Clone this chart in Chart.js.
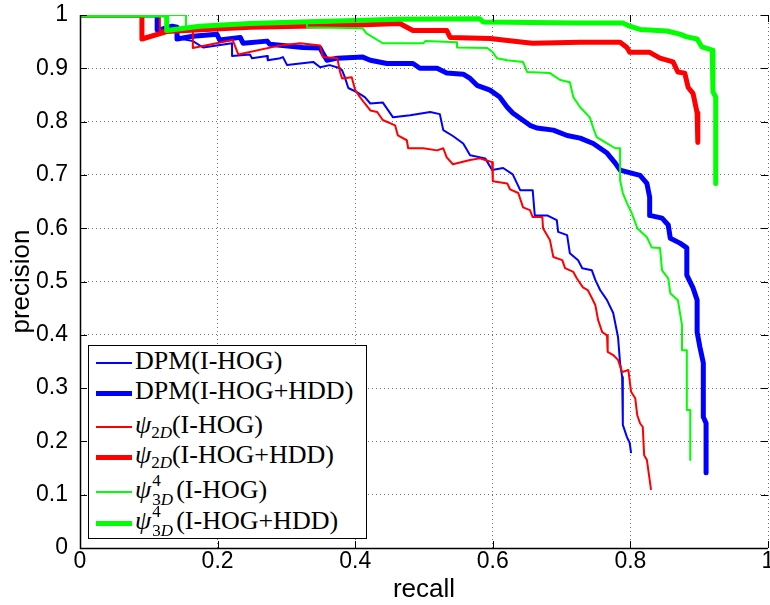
<!DOCTYPE html>
<html>
<head>
<meta charset="utf-8">
<script src="https://cdn.jsdelivr.net/npm/chart.js@4/dist/chart.umd.min.js"></script>
<style>
  html, body { margin: 0; padding: 0; background: #fff; }
  #wrap { position: relative; width: 770px; height: 605px; }
  #legend {
    position: absolute; left: 88px; top: 345px; width: 277px; height: 192px;
    border: 1px solid #000; background: #fff; color: #000;
    font-family: "Liberation Serif", "Times New Roman", serif; font-size: 26px;
  }
  .row { position: absolute; left: 7px; height: 30px; line-height: 30px; white-space: nowrap; }
  .sw { display: inline-block; width: 36px; vertical-align: middle; margin-right: 3px; }
  .sub { font-size: 17px; position: relative; top: 5px; }
  .ss { display: inline-block; position: relative; width: 25px; height: 10px; }
  .ss span { position: absolute; left: 1px; font-size: 17px; line-height: 17px; }
  .ss .sp { top: -16px; }
  .ss .sb { top: 3px; }
</style>
</head>
<body>
<div id="wrap">
  <canvas id="chart" width="770" height="605"></canvas>
  <div id="legend"></div>
</div>
<script>
// tick labels
const xTicks = [0, 0.2, 0.4, 0.6, 0.8, 1];
const yTicks = [0, 0.1, 0.2, 0.3, 0.4, 0.5, 0.6, 0.7, 0.8, 0.9, 1];

// DPM(I-HOG)
const dpmHogR = [0, 0.110, 0.110, 0.138, 0.145, 0.164, 0.179, 0.221, 0.221, 0.247, 0.250, 0.272, 0.273, 0.291, 0.295, 0.301, 0.339, 0.349, 0.363, 0.378, 0.381, 0.385, 0.390, 0.403, 0.414, 0.422, 0.440, 0.455, 0.480, 0.509, 0.523, 0.528, 0.542, 0.557, 0.567, 0.589, 0.599, 0.615, 0.629, 0.640, 0.658, 0.661, 0.679, 0.693, 0.695, 0.708, 0.712, 0.724, 0.730, 0.744, 0.749, 0.756, 0.766, 0.775, 0.782, 0.785, 0.788, 0.789, 0.795, 0.799, 0.801];
const dpmHogP = [1, 1, 0.971, 0.975, 0.956, 0.951, 0.939, 0.947, 0.923, 0.926, 0.919, 0.923, 0.915, 0.919, 0.921, 0.906, 0.912, 0.902, 0.906, 0.900, 0.896, 0.883, 0.863, 0.855, 0.846, 0.834, 0.836, 0.808, 0.812, 0.818, 0.814, 0.784, 0.773, 0.759, 0.737, 0.731, 0.709, 0.713, 0.701, 0.671, 0.671, 0.624, 0.624, 0.615, 0.593, 0.587, 0.553, 0.540, 0.525, 0.521, 0.503, 0.484, 0.465, 0.441, 0.396, 0.347, 0.321, 0.231, 0.208, 0.197, 0.178];

// DPM(I-HOG+HDD)
const dpmHddR = [0, 0.113, 0.113, 0.134, 0.141, 0.141, 0.164, 0.199, 0.203, 0.233, 0.237, 0.272, 0.276, 0.324, 0.349, 0.353, 0.359, 0.374, 0.411, 0.422, 0.446, 0.484, 0.494, 0.519, 0.533, 0.557, 0.567, 0.577, 0.596, 0.610, 0.621, 0.629, 0.654, 0.664, 0.688, 0.708, 0.727, 0.746, 0.766, 0.778, 0.785, 0.814, 0.824, 0.828, 0.828, 0.846, 0.855, 0.858, 0.872, 0.882, 0.882, 0.891, 0.897, 0.897, 0.901, 0.906, 0.906, 0.910, 0.910];
const dpmHddP = [1, 1, 0.971, 0.979, 0.977, 0.955, 0.960, 0.964, 0.953, 0.958, 0.947, 0.951, 0.945, 0.939, 0.938, 0.928, 0.915, 0.919, 0.921, 0.915, 0.909, 0.909, 0.900, 0.900, 0.891, 0.889, 0.881, 0.868, 0.859, 0.846, 0.827, 0.816, 0.793, 0.788, 0.784, 0.774, 0.769, 0.759, 0.741, 0.722, 0.709, 0.699, 0.684, 0.658, 0.624, 0.619, 0.606, 0.581, 0.572, 0.563, 0.512, 0.488, 0.465, 0.405, 0.377, 0.347, 0.246, 0.234, 0.141];

// psi 2D (I-HOG)
const psi2HogR = [0, 0.116, 0.116, 0.164, 0.164, 0.222, 0.230, 0.291, 0.320, 0.349, 0.353, 0.374, 0.378, 0.381, 0.395, 0.400, 0.407, 0.414, 0.422, 0.432, 0.440, 0.458, 0.462, 0.475, 0.477, 0.499, 0.519, 0.528, 0.533, 0.542, 0.567, 0.581, 0.589, 0.599, 0.600, 0.621, 0.625, 0.637, 0.644, 0.654, 0.658, 0.672, 0.673, 0.683, 0.688, 0.701, 0.705, 0.717, 0.722, 0.731, 0.738, 0.744, 0.749, 0.753, 0.759, 0.766, 0.767, 0.775, 0.782, 0.788, 0.797, 0.801, 0.807, 0.810, 0.814, 0.818, 0.820, 0.824, 0.828, 0.830];
const psi2HogP = [1, 1, 0.971, 0.973, 0.938, 0.953, 0.926, 0.943, 0.947, 0.943, 0.921, 0.919, 0.893, 0.881, 0.883, 0.859, 0.846, 0.834, 0.821, 0.818, 0.803, 0.793, 0.774, 0.765, 0.750, 0.750, 0.746, 0.750, 0.733, 0.720, 0.728, 0.731, 0.728, 0.724, 0.688, 0.684, 0.673, 0.666, 0.639, 0.634, 0.621, 0.621, 0.600, 0.578, 0.546, 0.540, 0.525, 0.518, 0.506, 0.489, 0.484, 0.469, 0.456, 0.428, 0.405, 0.399, 0.368, 0.362, 0.353, 0.330, 0.334, 0.293, 0.281, 0.249, 0.234, 0.227, 0.174, 0.165, 0.128, 0.109];

// psi 2D (I-HOG+HDD)
const psi2HddR = [0, 0.090, 0.090, 0.126, 0.247, 0.392, 0.465, 0.475, 0.484, 0.533, 0.538, 0.596, 0.644, 0.658, 0.727, 0.785, 0.795, 0.799, 0.828, 0.843, 0.862, 0.869, 0.879, 0.884, 0.891, 0.897, 0.898];
const psi2HddP = [1, 1, 0.955, 0.969, 0.977, 0.981, 0.984, 0.977, 0.971, 0.971, 0.958, 0.956, 0.949, 0.947, 0.949, 0.949, 0.939, 0.930, 0.930, 0.919, 0.912, 0.893, 0.891, 0.864, 0.853, 0.816, 0.761];

// psi 3D^4 (I-HOG)
const psi3HogR = [0, 0.154, 0.154, 0.247, 0.330, 0.330, 0.411, 0.416, 0.440, 0.499, 0.502, 0.548, 0.548, 0.592, 0.600, 0.606, 0.621, 0.644, 0.650, 0.683, 0.698, 0.712, 0.717, 0.727, 0.741, 0.746, 0.751, 0.766, 0.778, 0.785, 0.785, 0.789, 0.795, 0.802, 0.810, 0.824, 0.831, 0.843, 0.846, 0.855, 0.858, 0.869, 0.875, 0.875, 0.882, 0.882, 0.887, 0.887];
const psi3HogP = [1, 1, 0.977, 0.983, 0.986, 0.977, 0.975, 0.966, 0.947, 0.947, 0.951, 0.949, 0.939, 0.938, 0.930, 0.919, 0.915, 0.912, 0.893, 0.891, 0.878, 0.874, 0.846, 0.827, 0.808, 0.788, 0.771, 0.759, 0.750, 0.750, 0.690, 0.666, 0.647, 0.628, 0.600, 0.583, 0.564, 0.563, 0.521, 0.506, 0.478, 0.465, 0.418, 0.371, 0.371, 0.259, 0.259, 0.165];

// psi 3D^4 (I-HOG+HDD)
const psi3HddR = [0, 0.126, 0.126, 0.174, 0.247, 0.320, 0.465, 0.581, 0.586, 0.727, 0.789, 0.799, 0.814, 0.853, 0.872, 0.882, 0.897, 0.904, 0.919, 0.920, 0.924, 0.924];
const psi3HddP = [1, 1, 0.971, 0.979, 0.984, 0.987, 0.992, 0.993, 0.987, 0.985, 0.985, 0.979, 0.973, 0.970, 0.964, 0.959, 0.955, 0.940, 0.934, 0.856, 0.846, 0.684];

const seriesNames = ['DPM(I-HOG)', 'DPM(I-HOG+HDD)', 'ψ2D(I-HOG)', 'ψ2D(I-HOG+HDD)', 'ψ43D(I-HOG)', 'ψ43D(I-HOG+HDD)'];
const seriesColors = ['#0000ff', '#0000ff', '#ff0000', '#ff0000', '#00ff00', '#00ff00'];
const seriesWidths = [2, 5, 2, 5, 2, 5];
const seriesR = [dpmHogR, dpmHddR, psi2HogR, psi2HddR, psi3HogR, psi3HddR];
const seriesP = [dpmHogP, dpmHddP, psi2HogP, psi2HddP, psi3HogP, psi3HddP];

// legend markup (sub/superscripts)
const legendHtml = [
  'DPM(I-HOG)',
  'DPM(I-HOG+HDD)',
  '<i>ψ</i><span class="sub">2<i>D</i></span>(I-HOG)',
  '<i>ψ</i><span class="sub">2<i>D</i></span>(I-HOG+HDD)',
  '<i>ψ</i><span class="ss"><span class="sp">4</span><span class="sb">3<i>D</i></span></span>(I-HOG)',
  '<i>ψ</i><span class="ss"><span class="sp">4</span><span class="sb">3<i>D</i></span></span>(I-HOG+HDD)'
];
const legendRowTop = [0, 30, 64, 94, 129, 160];

const sansFont = '"Liberation Sans", Arial, sans-serif';
const gridColor = 'rgba(0,0,0,0.55)';

// Axes box + inward tick marks, matlab style
const axesBox = {
  id: 'axesBox',
  afterDatasetsDraw(c) {
    const { ctx, chartArea: a, scales: { x, y } } = c;
    ctx.save();
    ctx.strokeStyle = '#000';
    ctx.lineWidth = 1;
    ctx.beginPath();
    yTicks.forEach(v => {
      const py = Math.round(y.getPixelForValue(v)) + 0.5;
      ctx.moveTo(a.left, py); ctx.lineTo(a.left + 7, py);
      ctx.moveTo(a.right - 7, py); ctx.lineTo(a.right, py);
    });
    xTicks.forEach(v => {
      const px = Math.round(x.getPixelForValue(v)) + 0.5;
      ctx.moveTo(px, a.bottom); ctx.lineTo(px, a.bottom - 7);
      ctx.moveTo(px, a.top); ctx.lineTo(px, a.top + 7);
    });
    ctx.stroke();
    ctx.lineWidth = 1.5;
    ctx.beginPath();
    ctx.moveTo(a.left + 0.5, a.top);
    ctx.lineTo(a.left + 0.5, a.bottom + 0.5);
    ctx.lineTo(a.right, a.bottom + 0.5);
    ctx.stroke();
    ctx.restore();
  }
};

const datasets = seriesNames.map((name, i) => ({
  label: name,
  data: seriesR[i].map((r, k) => ({ x: r, y: seriesP[i][k] })),
  borderColor: seriesColors[i],
  backgroundColor: seriesColors[i],
  borderWidth: seriesWidths[i],
  borderJoinStyle: 'round',
  pointRadius: 0,
  tension: 0,
  fill: false,
  order: seriesNames.length - 1 - i,
}));

chart = new Chart(document.getElementById('chart').getContext('2d'), {
  type: 'line',
  data: { datasets },
  options: {
    responsive: false,
    animation: false,
    devicePixelRatio: 1,
    layout: { padding: { top: 15, right: 2, left: 0, bottom: 0 } },
    plugins: { legend: { display: false }, tooltip: { enabled: false } },
    scales: {
      x: {
        type: 'linear', min: 0, max: 1,
        afterBuildTicks: s => { s.ticks = xTicks.map(v => ({ value: v })); },
        ticks: { callback: v => String(v), color: '#000', font: { family: sansFont, size: 23 }, padding: 0, maxRotation: 0, autoSkip: false },
        grid: { color: gridColor, lineWidth: 1, drawTicks: false },
        border: { display: false, dash: [1, 3] },
        title: { display: true, text: 'recall', color: '#000', font: { family: sansFont, size: 26 }, padding: { top: 0, bottom: 0 } },
        afterFit: s => { s.height = 57; s.paddingLeft = 0; s.paddingRight = 0; },
      },
      y: {
        type: 'linear', min: 0, max: 1,
        afterBuildTicks: s => { s.ticks = yTicks.map(v => ({ value: v })); },
        ticks: { callback: v => String(v), color: '#000', font: { family: sansFont, size: 23 }, padding: 12, autoSkip: false },
        grid: { color: gridColor, lineWidth: 1, drawTicks: false },
        border: { display: false, dash: [1, 3] },
        title: { display: true, text: 'precision', color: '#000', font: { family: sansFont, size: 26 }, padding: { top: 6, bottom: 0 } },
        afterFit: s => { s.width = 80; s.paddingTop = 0; s.paddingBottom = 0; },
      },
    },
  },
  plugins: [axesBox],
});

// HTML legend (needs sub/superscripts)
const legendEl = document.getElementById('legend');
legendEl.innerHTML = legendHtml.map((html, i) => `
  <div class="row" style="top:${legendRowTop[i]}px">
    <span class="sw" style="height:${seriesWidths[i] === 5 ? 5 : 2}px;background:${seriesColors[i]}"></span>${html}
  </div>
`).join('');
</script>
</body>
</html>
